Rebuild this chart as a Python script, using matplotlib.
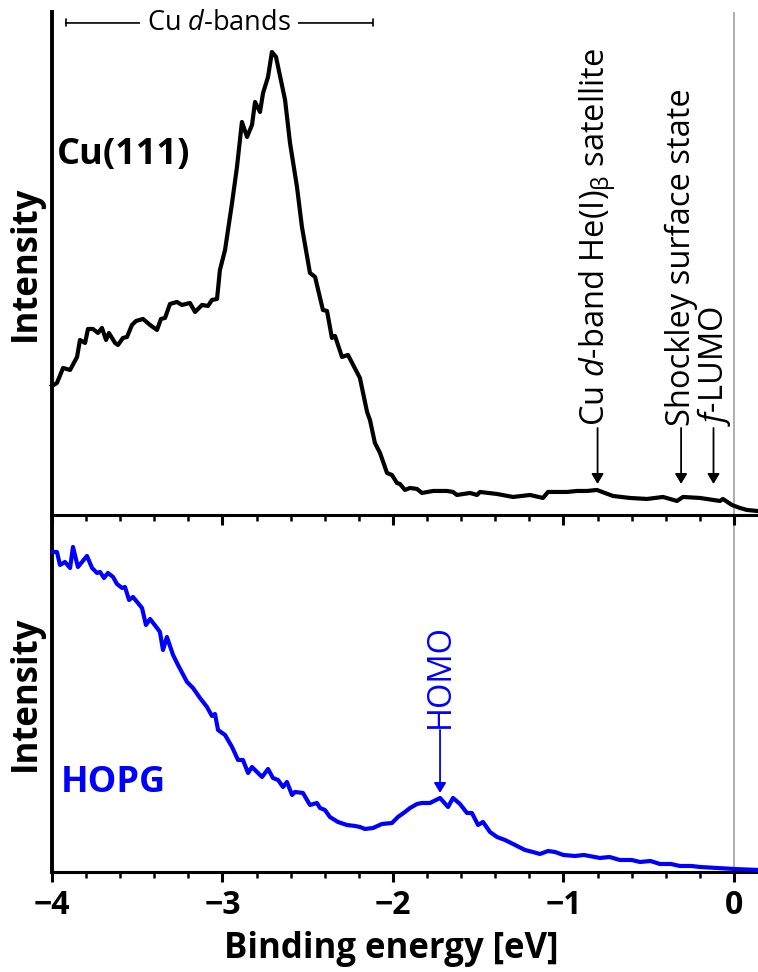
import matplotlib
matplotlib.use("Agg")
import matplotlib.pyplot as plt
from matplotlib.ticker import MultipleLocator

plt.rcParams['font.family'] = ['Open Sans', 'DejaVu Sans']
plt.rcParams['mathtext.fontset'] = 'custom'
plt.rcParams['mathtext.rm'] = 'Open Sans'
plt.rcParams['mathtext.it'] = 'Open Sans:italic'
plt.rcParams['mathtext.bf'] = 'Open Sans:bold'

# ---- Cu(111) spectrum (binding energy [eV], intensity [arb. u.]) ----
cu_energy = [-4.000, -3.971, -3.935, -3.894, -3.853, -3.836, -3.806, -3.789, -3.760, -3.730,
             -3.707, -3.683, -3.666, -3.630, -3.613, -3.584, -3.560, -3.531, -3.507, -3.466,
             -3.425, -3.384, -3.361, -3.337, -3.308, -3.267, -3.238, -3.191, -3.161, -3.120,
             -3.085, -3.062, -3.032, -3.015, -2.985, -2.944, -2.915, -2.886, -2.856, -2.827,
             -2.809, -2.780, -2.762, -2.733, -2.710, -2.686, -2.633, -2.604, -2.563, -2.534,
             -2.487, -2.457, -2.411, -2.387, -2.358, -2.340, -2.299, -2.264, -2.194, -2.152,
             -2.135, -2.106, -2.076, -2.035, -2.006, -1.977, -1.959, -1.930, -1.900, -1.859,
             -1.830, -1.765, -1.683, -1.648, -1.625, -1.548, -1.507, -1.490, -1.390, -1.296,
             -1.196, -1.120, -1.091, -0.979, -0.921, -0.862, -0.804, -0.710, -0.610, -0.510,
             -0.416, -0.334, -0.299, -0.199, -0.082, -0.065, -0.012, 0.035, 0.076, 0.135]
cu_intensity = [129, 132, 147, 145, 158, 175, 172, 186, 186, 182,
                187, 175, 182, 172, 170, 177, 178, 190, 194, 196,
                190, 185, 196, 197, 211, 213, 210, 212, 203, 210,
                209, 215, 216, 245, 265, 312, 348, 393, 378, 390,
                413, 403, 422, 438, 463, 458, 415, 372, 328, 288,
                242, 238, 205, 204, 177, 179, 158, 160, 137, 103,
                95, 72, 62, 42, 40, 32, 31, 25, 27, 26,
                22, 24, 24, 23, 20, 22, 20, 23, 21, 18,
                20, 17, 23, 23, 24, 24, 25, 19, 17, 16,
                18, 14, 18, 17, 14, 16, 10, 7, 5, 4]

# ---- HOPG spectrum ----
hopg_energy = [-3.994, -3.971, -3.953, -3.924, -3.894, -3.877, -3.848, -3.795, -3.765, -3.736,
               -3.718, -3.695, -3.672, -3.642, -3.619, -3.589, -3.572, -3.548, -3.525, -3.472,
               -3.449, -3.425, -3.384, -3.367, -3.349, -3.326, -3.290, -3.261, -3.208, -3.173,
               -3.132, -3.091, -3.062, -3.044, -3.026, -2.985, -2.944, -2.909, -2.880, -2.850,
               -2.827, -2.768, -2.733, -2.704, -2.674, -2.645, -2.622, -2.592, -2.575, -2.528,
               -2.487, -2.446, -2.428, -2.399, -2.370, -2.323, -2.270, -2.223, -2.194, -2.164,
               -2.117, -2.065, -2.006, -1.971, -1.930, -1.900, -1.859, -1.830, -1.783, -1.724,
               -1.677, -1.648, -1.607, -1.566, -1.537, -1.501, -1.472, -1.431, -1.390, -1.343,
               -1.284, -1.226, -1.180, -1.138, -1.090, -1.050, -1.000, -0.933, -0.880, -0.786,
               -0.730, -0.669, -0.600, -0.551, -0.490, -0.434, -0.370, -0.317, -0.250, -0.199,
               -0.100, 0.000, 0.141]
hopg_intensity = [320, 320, 307, 310, 304, 325, 305, 316, 304, 299,
                  300, 294, 299, 295, 288, 284, 285, 272, 275, 264,
                  247, 253, 244, 240, 222, 235, 217, 207, 190, 184,
                  174, 165, 156, 158, 142, 137, 125, 112, 112, 99,
                  105, 95, 103, 94, 92, 85, 90, 77, 80, 79,
                  67, 69, 64, 62, 55, 50, 47, 46, 45, 43,
                  44, 48, 49, 55, 60, 64, 68, 69, 69, 74,
                  65, 74, 68, 59, 59, 47, 50, 40, 35, 32,
                  27, 22, 20, 18, 21, 20, 17, 16, 17, 14,
                  15, 12, 12, 10, 11, 8, 8, 6, 6, 5,
                  4, 3, 2]

# ---- annotations ----
cu_marks = [r"Cu $\mathit{d}$-band He(I)$_{\mathrm{β}}$ satellite",
            "Shockley surface state",
            r"$\mathit{f}$-LUMO"]
cu_mark_energy = [-0.80, -0.31, -0.12]
dband_range = [-3.92, -2.12]
homo_energy = -1.724

xmin, xmax = -4.0, 0.141
fig = plt.figure(figsize=(7.58, 9.72), dpi=100)
ax2 = fig.add_axes([0.0686, 0.1029, 0.9314, 0.3673])
ax1 = fig.add_axes([0.0686, 0.4702, 0.9314, 0.5175])
ax1.set_zorder(3)
for ax in (ax1, ax2):
    ax.patch.set_visible(False)

for ax in (ax1, ax2):
    ax.set_xlim(xmin, xmax)
    ax.spines['top'].set_visible(False)
    ax.spines['right'].set_visible(False)
    ax.spines['left'].set_linewidth(2.8)
    ax.spines['bottom'].set_linewidth(2.2)
    ax.set_yticks([])
    ax.xaxis.set_major_locator(MultipleLocator(1))
    ax.xaxis.set_minor_locator(MultipleLocator(0.2))
    ax.tick_params(axis='x', which='major', direction='out', length=7.5, width=2.2)
    ax.tick_params(axis='x', which='minor', direction='out', length=4.5, width=1.8)
    ax.axvline(0, color='#a0a0a0', lw=1.2, zorder=1)

ax1.set_ylim(0, 503)
ax2.set_ylim(0, 357)
ax1.tick_params(axis='x', labelbottom=False)
ax2.set_xticks([-4, -3, -2, -1, 0])
ax2.set_xticklabels(['\u22124', '\u22123', '\u22122', '\u22121', '0'],
                    fontweight='bold', fontsize=23)
ax2.tick_params(axis='x', which='major', pad=5)

ax1.plot(cu_energy, cu_intensity, color='black', lw=3.0, zorder=3, clip_on=False)
ax2.plot(hopg_energy, hopg_intensity, color='#0000ff', lw=3.0, zorder=3, clip_on=False)

ax1.set_ylabel('Intensity', fontsize=25, fontweight='bold', labelpad=6)
ax2.set_ylabel('Intensity', fontsize=25, fontweight='bold', labelpad=6)
ax2.set_xlabel('Binding energy [eV]', fontsize=25, fontweight='bold')
ax2.xaxis.set_label_coords(0.48, -0.165)

ax1.text(-3.97, 360, 'Cu(111)', fontsize=26, fontweight='bold', ha='left', va='center')
ax2.text(-3.95, 89, 'HOPG', fontsize=26, fontweight='bold', color='#0000ff',
         ha='left', va='center')

# d-band range bracket
bar_y = 492
ax1.annotate('', xy=(dband_range[0], bar_y), xytext=(dband_range[1], bar_y),
             arrowprops=dict(arrowstyle='|-|,widthA=0.25,widthB=0.25', lw=1.2,
                             color='black', shrinkA=0, shrinkB=0),
             annotation_clip=False)
ax1.text(sum(dband_range) / 2, bar_y, r"Cu $\mathit{d}$-bands", fontsize=19.5,
         ha='center', va='center',
         bbox=dict(facecolor='white', edgecolor='none', pad=5))

arrow_kw = dict(arrowstyle='-|>,head_length=0.5,head_width=0.3', lw=1.3,
                shrinkA=0, shrinkB=0, mutation_scale=12)
for label, e in zip(cu_marks, cu_mark_energy):
    ax1.annotate('', xy=(e, 31), xytext=(e, 87),
                 arrowprops=dict(color='black', **arrow_kw))
    ax1.text(e, 89, label, rotation=90, fontsize=23.5, ha='center', va='bottom')

ax2.annotate('', xy=(homo_energy, 79), xytext=(homo_energy, 142),
             arrowprops=dict(color='#0000ff', **arrow_kw))
ax2.text(homo_energy, 144, 'HOMO', rotation=90, fontsize=23.5, color='#0000ff',
         ha='center', va='bottom')

fig.savefig('out.png', dpi=100)
